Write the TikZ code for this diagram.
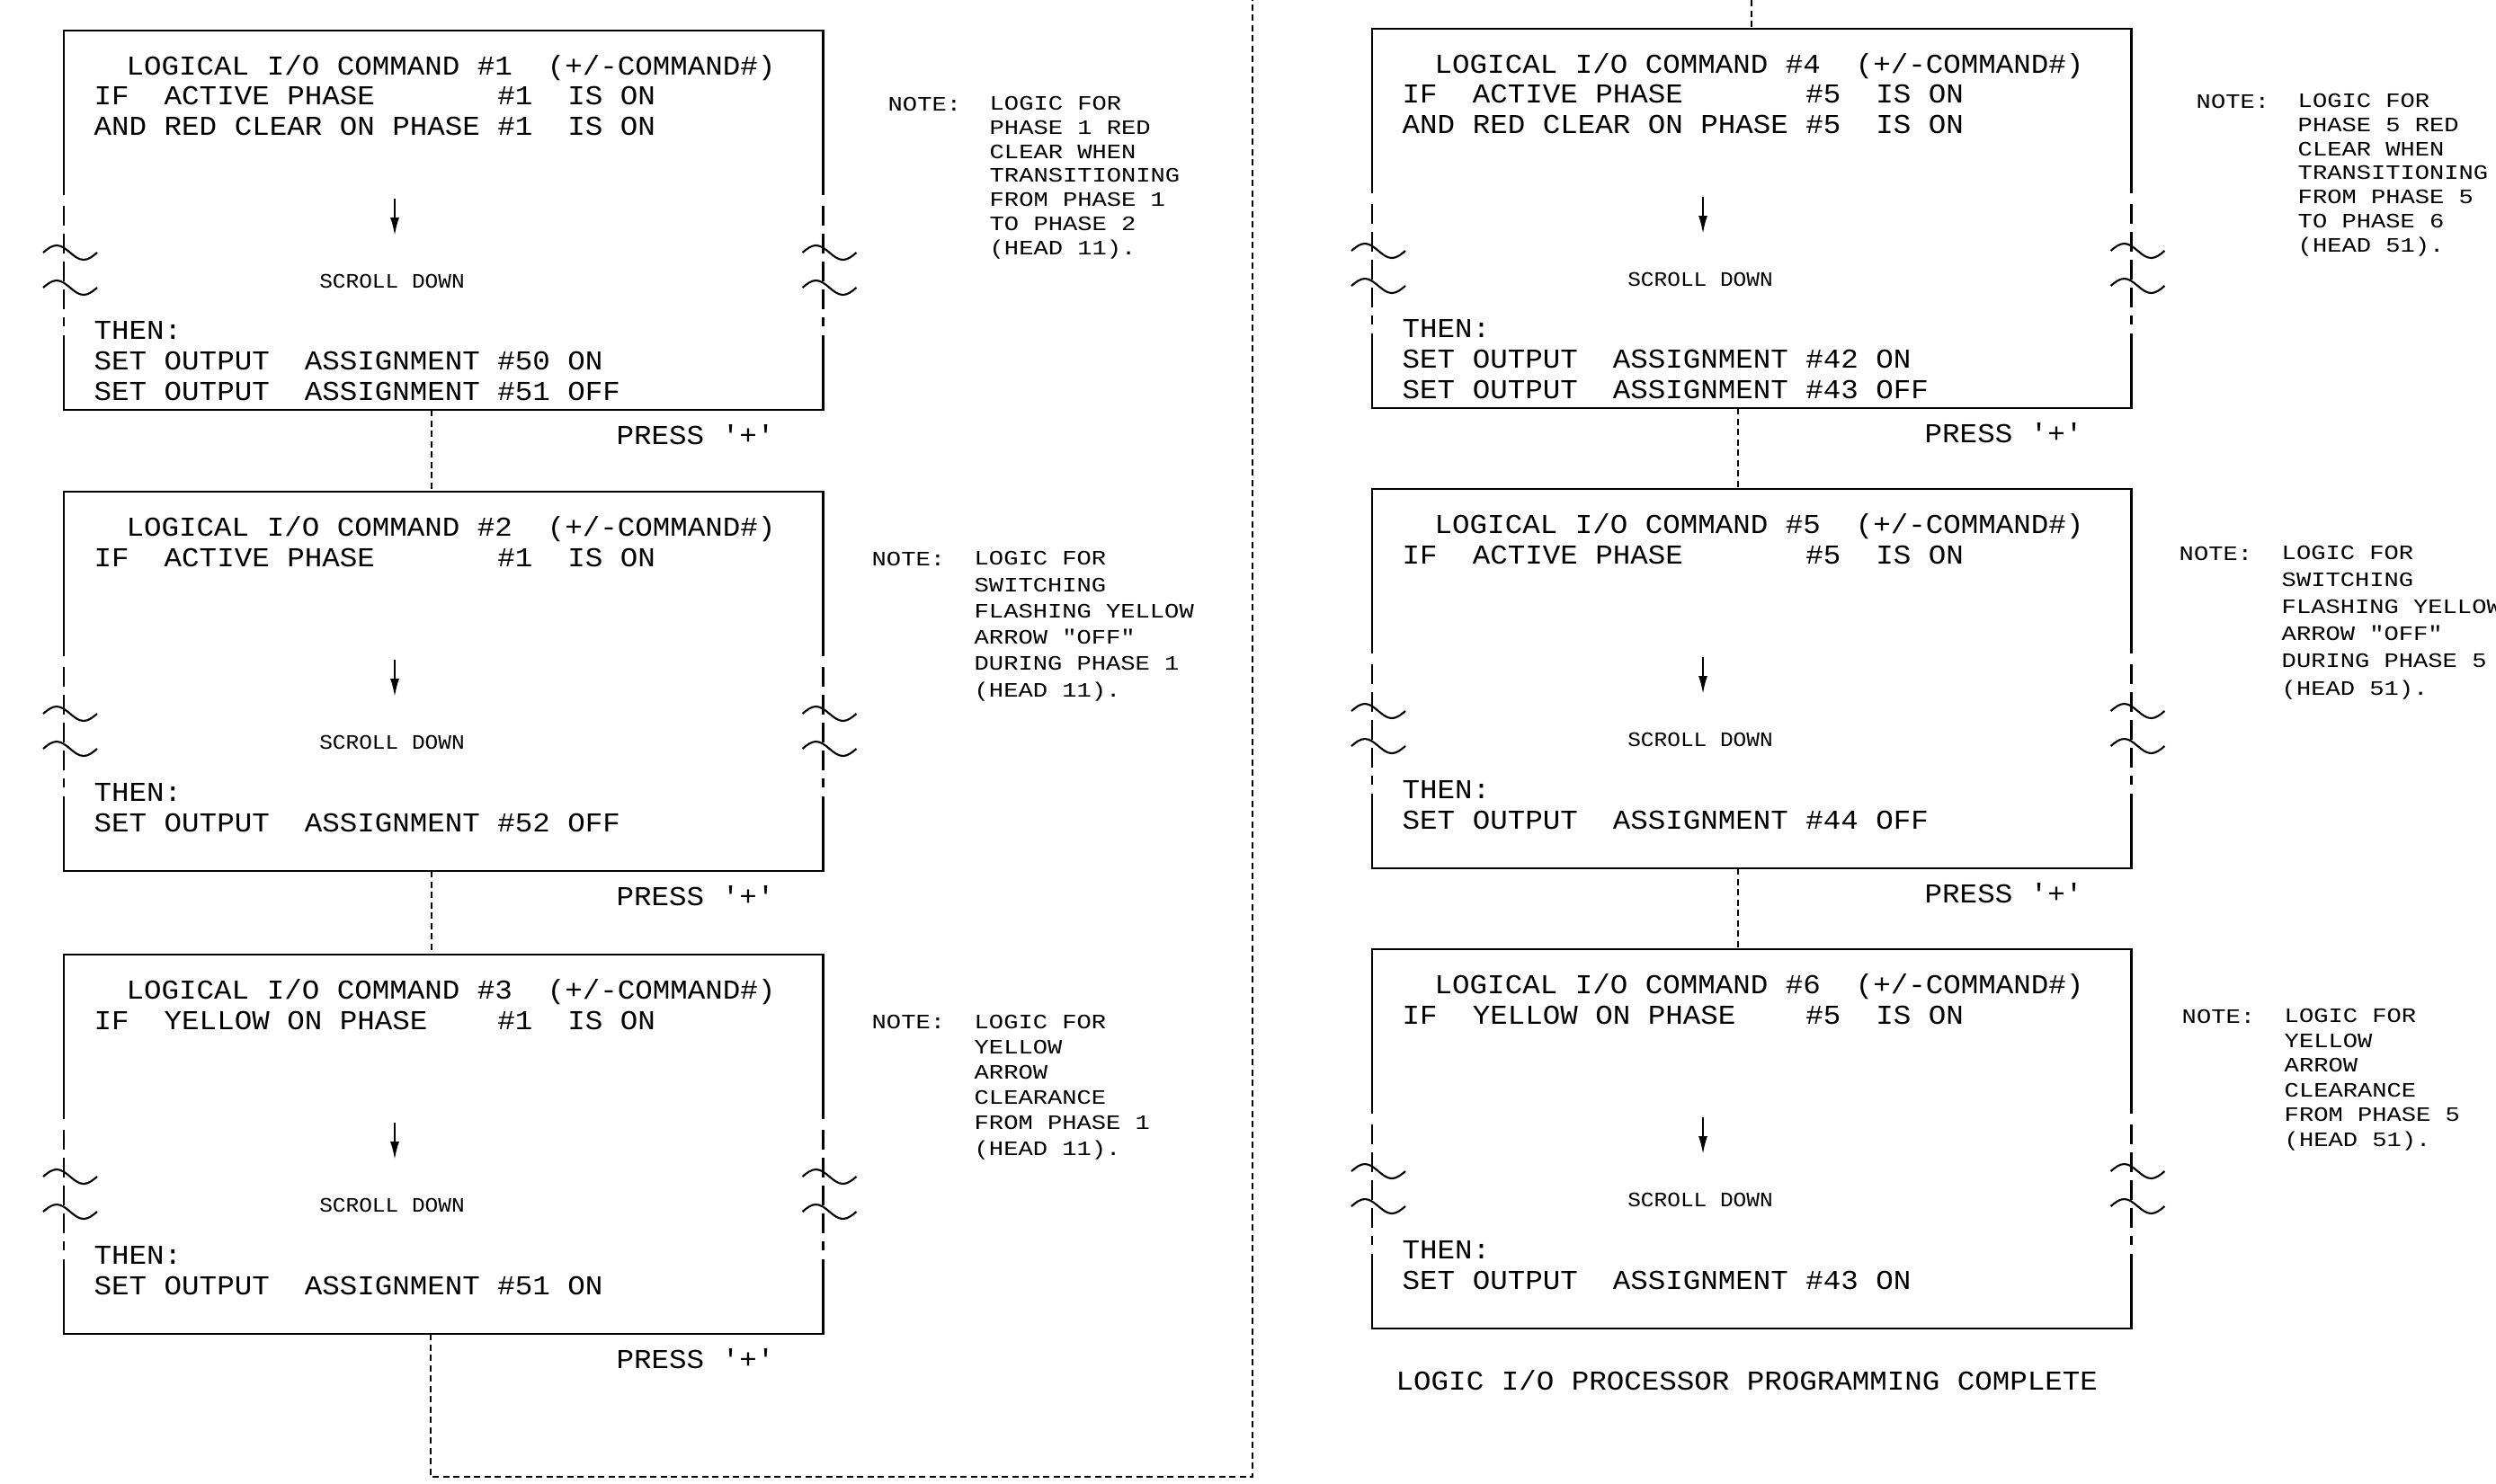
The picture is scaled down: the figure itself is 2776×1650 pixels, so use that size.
\documentclass[tikz,border=0pt]{standalone}
\usepackage{fontspec}
\usetikzlibrary{arrows.meta}
\newfontfamily\iofont{Liberation Mono}[FakeStretch=1.07]
\newfontfamily\notefont{Liberation Mono}[FakeStretch=1.19]

\tikzset{
  screen/.style={anchor=north west, minimum width=8.44cm, minimum height=4.22cm, inner sep=0pt, outer sep=0pt},
  frame/.style={line width=0.6pt},
  brkline/.style={line width=0.6pt, dash pattern=on 0.22cm off 0.09cm},
  flow/.style={line width=0.45pt, dash pattern=on 0.07cm off 0.045cm},
  % multi-line nodes: base anchor sits on the last line
  iotext/.style={anchor=base west, inner sep=0pt, align=left, font=\iofont\fontsize{8.64}{9.53}\selectfont},
  scrolltext/.style={anchor=base, inner sep=0pt, font=\iofont\fontsize{6.5}{7}\selectfont},
  notetext/.style={anchor=base west, inner sep=0pt, align=left, font=\notefont\fontsize{6.48}{#1}\selectfont},
  notetext/.default=7.6pt,
  downarrow/.style={line width=0.6pt, -{Latex[length=0.2cm, width=0.1cm]}},
  brk/.pic={\draw[line width=0.6pt] (-23,0) sin (-8,-8) cos (7,0) sin (22,8) cos (37,0);}
}

\begin{document}
\begin{tikzpicture}[x=0.01cm, y=-0.01cm]
\path[use as bounding box, fill=white] (0,0) rectangle (2776,1650);

% --- Screens (left column: commands 1-3, right column: commands 4-6) ---
\node[screen] (cmd1) at (71,34) {};
\node[screen] (cmd2) at (71,547) {};
\node[screen] (cmd3) at (71,1062) {};
\node[screen] (cmd4) at (1526,32) {};
\node[screen] (cmd5) at (1526,544) {};
\node[screen] (cmd6) at (1526,1056) {};

% frame with broken sides, scroll arrow
\foreach \b in {cmd1,cmd2,cmd3,cmd4,cmd5,cmd6} {
  \draw[frame] ([shift={(0,183)}]\b.north west) -- (\b.north west) -- (\b.north east) -- ([shift={(0,183)}]\b.north east);
  \draw[frame] ([shift={(0,-83)}]\b.south west) -- (\b.south west) -- (\b.south east) -- ([shift={(0,-83)}]\b.south east);
  \draw[brkline] ([shift={(0,195)}]\b.north west) -- ([shift={(0,-93)}]\b.south west);
  \draw[brkline] ([shift={(0,195)}]\b.north east) -- ([shift={(0,-93)}]\b.south east);
  \pic at ([shift={(0,247)}]\b.north west) {brk};
  \pic at ([shift={(0,286)}]\b.north west) {brk};
  \pic at ([shift={(0,247)}]\b.north east) {brk};
  \pic at ([shift={(0,286)}]\b.north east) {brk};
  \node[scrolltext] (\b-scroll) at ([shift={(365,286)}]\b.north west) {SCROLL DOWN};
  \draw[downarrow] ([shift={(368,187)}]\b.north west) -- ++(0,41);
}

% --- Command 1 ---
\node[iotext] (cmd1-title) at ([shift={(69,49)}]cmd1.north west) {LOGICAL I/O COMMAND \#1~~(+/-COMMAND\#)};
\node[iotext] (cmd1-if) at ([shift={(33,116)}]cmd1.north west) {IF~~ACTIVE PHASE~~~~~~~\#1~~IS ON\\AND RED CLEAR ON PHASE \#1~~IS ON};
\node[iotext] (cmd1-then) at ([shift={(33,411)}]cmd1.north west) {THEN:\\SET OUTPUT~~ASSIGNMENT \#50 ON\\SET OUTPUT~~ASSIGNMENT \#51 OFF};
\node[iotext] (press1) at ([shift={(614,38)}]cmd1.south west) {PRESS~'+'};

% --- Command 2 ---
\node[iotext] (cmd2-title) at ([shift={(69,49)}]cmd2.north west) {LOGICAL I/O COMMAND \#2~~(+/-COMMAND\#)};
\node[iotext] (cmd2-if) at ([shift={(33,83)}]cmd2.north west) {IF~~ACTIVE PHASE~~~~~~~\#1~~IS ON};
\node[iotext] (cmd2-then) at ([shift={(33,378)}]cmd2.north west) {THEN:\\SET OUTPUT~~ASSIGNMENT \#52 OFF};
\node[iotext] (press2) at ([shift={(614,38)}]cmd2.south west) {PRESS~'+'};

% --- Command 3 ---
\node[iotext] (cmd3-title) at ([shift={(69,49)}]cmd3.north west) {LOGICAL I/O COMMAND \#3~~(+/-COMMAND\#)};
\node[iotext] (cmd3-if) at ([shift={(33,83)}]cmd3.north west) {IF~~YELLOW ON PHASE~~~~\#1~~IS ON};
\node[iotext] (cmd3-then) at ([shift={(33,378)}]cmd3.north west) {THEN:\\SET OUTPUT~~ASSIGNMENT \#51 ON};
\node[iotext] (press3) at ([shift={(614,38)}]cmd3.south west) {PRESS~'+'};

% --- Command 4 ---
\node[iotext] (cmd4-title) at ([shift={(69,49)}]cmd4.north west) {LOGICAL I/O COMMAND \#4~~(+/-COMMAND\#)};
\node[iotext] (cmd4-if) at ([shift={(33,116)}]cmd4.north west) {IF~~ACTIVE PHASE~~~~~~~\#5~~IS ON\\AND RED CLEAR ON PHASE \#5~~IS ON};
\node[iotext] (cmd4-then) at ([shift={(33,411)}]cmd4.north west) {THEN:\\SET OUTPUT~~ASSIGNMENT \#42 ON\\SET OUTPUT~~ASSIGNMENT \#43 OFF};
\node[iotext] (press4) at ([shift={(614,38)}]cmd4.south west) {PRESS~'+'};

% --- Command 5 ---
\node[iotext] (cmd5-title) at ([shift={(69,49)}]cmd5.north west) {LOGICAL I/O COMMAND \#5~~(+/-COMMAND\#)};
\node[iotext] (cmd5-if) at ([shift={(33,83)}]cmd5.north west) {IF~~ACTIVE PHASE~~~~~~~\#5~~IS ON};
\node[iotext] (cmd5-then) at ([shift={(33,378)}]cmd5.north west) {THEN:\\SET OUTPUT~~ASSIGNMENT \#44 OFF};
\node[iotext] (press5) at ([shift={(614,38)}]cmd5.south west) {PRESS~'+'};

% --- Command 6 ---
\node[iotext] (cmd6-title) at ([shift={(69,49)}]cmd6.north west) {LOGICAL I/O COMMAND \#6~~(+/-COMMAND\#)};
\node[iotext] (cmd6-if) at ([shift={(33,83)}]cmd6.north west) {IF~~YELLOW ON PHASE~~~~\#5~~IS ON};
\node[iotext] (cmd6-then) at ([shift={(33,378)}]cmd6.north west) {THEN:\\SET OUTPUT~~ASSIGNMENT \#43 ON};
\node[iotext] (done) at (1552,1546) {LOGIC I/O PROCESSOR PROGRAMMING COMPLETE};

% --- Notes ---
\node[notetext] (note1) at (987,123) {NOTE:};
\node[notetext=7.6pt] (note1-text) at ([shift={(113,160)}]note1.base west) {LOGIC FOR\\PHASE 1 RED\\CLEAR WHEN\\TRANSITIONING\\FROM PHASE 1\\TO PHASE 2\\(HEAD 11).};
\node[notetext] (note2) at (969,629) {NOTE:};
\node[notetext=8.31pt] (note2-text) at ([shift={(114,146)}]note2.base west) {LOGIC FOR\\SWITCHING\\FLASHING YELLOW\\ARROW "OFF"\\DURING PHASE 1\\(HEAD 11).};
\node[notetext] (note3) at (969,1144) {NOTE:};
\node[notetext=8.02pt] (note3-text) at ([shift={(114,141)}]note3.base west) {LOGIC FOR\\YELLOW\\ARROW\\CLEARANCE\\FROM PHASE 1\\(HEAD 11).};
\node[notetext] (note4) at (2442,120) {NOTE:};
\node[notetext=7.6pt] (note4-text) at ([shift={(113,160)}]note4.base west) {LOGIC FOR\\PHASE 5 RED\\CLEAR WHEN\\TRANSITIONING\\FROM PHASE 5\\TO PHASE 6\\(HEAD 51).};
\node[notetext] (note5) at (2423,623) {NOTE:};
\node[notetext=8.54pt] (note5-text) at ([shift={(114,150)}]note5.base west) {LOGIC FOR\\SWITCHING\\FLASHING YELLOW\\ARROW "OFF"\\DURING PHASE 5\\(HEAD 51).};
\node[notetext] (note6) at (2426,1138) {NOTE:};
\node[notetext=7.8pt] (note6-text) at ([shift={(114,137)}]note6.base west) {LOGIC FOR\\YELLOW\\ARROW\\CLEARANCE\\FROM PHASE 5\\(HEAD 51).};

% --- Dashed flow between screens ---
\coordinate (loopbr) at (1393,1643);
\coordinate (looptop) at (1393,0);
\coordinate (intop) at (1948,0);
\draw[flow] ([shift={(409,0)}]cmd1.south west) -- ([shift={(409,0)}]cmd2.north west);
\draw[flow] ([shift={(409,0)}]cmd2.south west) -- ([shift={(409,0)}]cmd3.north west);
\draw[flow] ([shift={(408,0)}]cmd3.south west) |- (loopbr) -- (looptop);
\draw[flow] (intop) -- (intop |- cmd4.north);
\draw[flow] ([shift={(407,0)}]cmd4.south west) -- ([shift={(407,0)}]cmd5.north west);
\draw[flow] ([shift={(407,0)}]cmd5.south west) -- ([shift={(407,0)}]cmd6.north west);

\end{tikzpicture}
\end{document}
